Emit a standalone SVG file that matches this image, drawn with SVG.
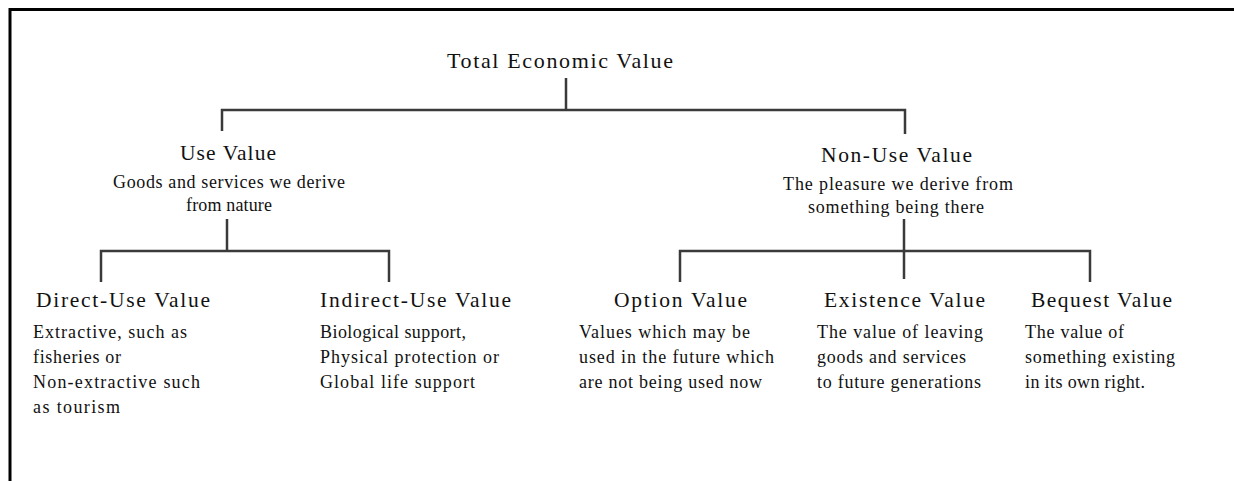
<svg xmlns="http://www.w3.org/2000/svg" width="1234" height="481" viewBox="0 0 1234 481">
<style>
text{font-family:"Liberation Serif","Times New Roman",serif;fill:#111}
.t{font-size:22px}
.h{font-size:21.5px}
.d{font-size:18px}
.c{fill:none;stroke:#3a3a3a;stroke-width:2.5}
.b{fill:none;stroke:#000;stroke-width:3}
</style>
<rect width="1234" height="481" fill="#fff"/>
<g id="frame"><path class="b" d="M10 481V9.5H1234"/></g>
<g id="connectors">
<path class="c" d="M566 78V110M222 131V110H905V134"/>
<path class="c" d="M227 219V251M101 282V251H389V282"/>
<path class="c" d="M904 219V279M680 282V251H1090V282"/>
</g>
<g id="tev"><text class="t" x="447" y="68" textLength="226" lengthAdjust="spacing">Total Economic Value</text></g>
<g id="use">
<text class="h" x="180" y="160" textLength="96" lengthAdjust="spacing">Use Value</text>
<text class="d" x="113" y="188" textLength="232" lengthAdjust="spacing">Goods and services we derive</text>
<text class="d" x="186" y="211" textLength="86" lengthAdjust="spacing">from nature</text>
</g>
<g id="nonuse">
<text class="h" x="821" y="162" textLength="151" lengthAdjust="spacing">Non-Use Value</text>
<text class="d" x="783" y="190" textLength="230" lengthAdjust="spacing">The pleasure we derive  from</text>
<text class="d" x="808" y="213" textLength="176" lengthAdjust="spacing">something being there</text>
</g>
<g id="direct">
<text class="h" x="36" y="307" textLength="174" lengthAdjust="spacing">Direct-Use Value</text>
<text class="d" x="33" y="338" textLength="154" lengthAdjust="spacing">Extractive, such as</text>
<text class="d" x="33" y="363" textLength="88" lengthAdjust="spacing">fisheries or</text>
<text class="d" x="33" y="388" textLength="167" lengthAdjust="spacing">Non-extractive such</text>
<text class="d" x="33" y="413" textLength="87" lengthAdjust="spacing">as tourism</text>
</g>
<g id="indirect">
<text class="h" x="320" y="307" textLength="191" lengthAdjust="spacing">Indirect-Use Value</text>
<text class="d" x="320" y="338" textLength="146" lengthAdjust="spacing">Biological support,</text>
<text class="d" x="320" y="363" textLength="179" lengthAdjust="spacing">Physical protection or</text>
<text class="d" x="320" y="388" textLength="155" lengthAdjust="spacing">Global life support</text>
</g>
<g id="option">
<text class="h" x="614" y="307" textLength="133" lengthAdjust="spacing">Option Value</text>
<text class="d" x="579" y="338" textLength="171" lengthAdjust="spacing">Values which may be</text>
<text class="d" x="579" y="363" textLength="195" lengthAdjust="spacing">used in the future which</text>
<text class="d" x="579" y="388" textLength="183" lengthAdjust="spacing">are not being used now</text>
</g>
<g id="existence">
<text class="h" x="824" y="307" textLength="161" lengthAdjust="spacing">Existence Value</text>
<text class="d" x="817" y="338" textLength="166" lengthAdjust="spacing">The value of leaving</text>
<text class="d" x="817" y="363" textLength="149" lengthAdjust="spacing">goods  and services</text>
<text class="d" x="817" y="388" textLength="164" lengthAdjust="spacing">to future generations</text>
</g>
<g id="bequest">
<text class="h" x="1031" y="307" textLength="141" lengthAdjust="spacing">Bequest Value</text>
<text class="d" x="1025" y="338" textLength="99" lengthAdjust="spacing">The value of</text>
<text class="d" x="1025" y="363" textLength="150" lengthAdjust="spacing">something existing</text>
<text class="d" x="1025" y="388" textLength="120" lengthAdjust="spacing">in its own right.</text>
</g>
</svg>
